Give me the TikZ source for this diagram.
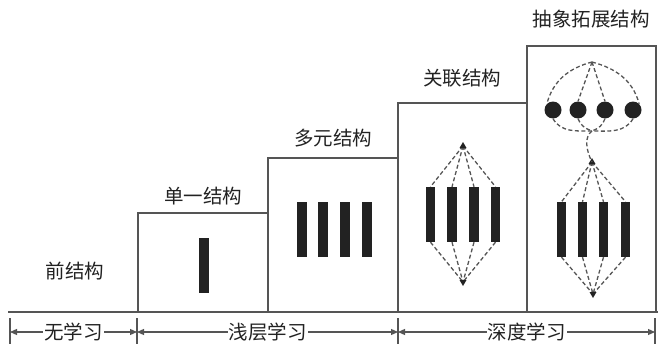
\documentclass[tikz,border=0pt]{standalone}
\usepackage{fontspec}
\newfontfamily\cjk{Noto Sans CJK SC}
\usetikzlibrary{arrows.meta,calc}
\definecolor{ink}{HTML}{222222}
\definecolor{frame}{HTML}{555555}
\tikzset{
  lbl/.style={font=\cjk\fontsize{19.5}{22}\selectfont, text=ink, inner sep=1pt},
  boxline/.style={draw=frame, line width=1.3pt},
  bar/.style={rectangle, fill=ink, draw=none, inner sep=0pt, minimum width=9.5pt, minimum height=55pt},
  ball/.style={circle, fill=ink, draw=none, inner sep=0pt, minimum size=17pt},
  dl/.style={draw=frame, dashed, dash pattern=on 4pt off 2.5pt, line width=1.3pt},
  tick/.style={draw=frame, line width=1.2pt},
  span/.style={draw=frame, line width=1.2pt, {Triangle[length=7pt,width=6pt]}-{Triangle[length=7pt,width=6pt]}},
}
\begin{document}
\begin{tikzpicture}[x=1pt,y=-1pt]
\useasboundingbox (0,0) rectangle (658,345);
% boxes
\draw[boxline] (138,312) -- (138,213) -- (268,213) -- (268,312);
\draw[boxline] (268,213) -- (268,158) -- (398,158) -- (398,312);
\draw[boxline] (398,158) -- (398,103) -- (527,103) -- (527,312);
\draw[boxline] (527,103) -- (527,46) -- (656,46) -- (656,312);
% baseline
\draw[draw=frame, line width=2.6pt] (8,312) -- (658,312);
% labels
\node[lbl] (l0) at (75,271) {前结构};
\node[lbl] (l1) at (203,196) {单一结构};
\node[lbl] (l2) at (333,138) {多元结构};
\node[lbl] (l3) at (462,78) {关联结构};
\node[lbl] (l4) at (591,19) {抽象拓展结构};
% box 1
\node[bar] (b10) at (204,265) {};
% box 2
\foreach \i/\x in {1/302,2/323,3/345,4/367}{\node[bar] (b2\i) at (\x,229.5) {};}
% box 3
\foreach \i/\x in {1/430.5,2/452,3/474,4/495.5}{\node[bar] (b3\i) at (\x,214.5) {};}
\coordinate (a3t) at (463,146);
\coordinate (a3b) at (463,282);
\foreach \i in {1,2,3,4}{
  \draw[dl] (a3t) -- (b3\i.north);
  \draw[dl] (b3\i.south) -- (a3b);
}
\fill[ink] ($(a3t)+(0,-4)$) -- ++(-3.5,6) -- ++(7,0) -- cycle;
\fill[ink] ($(a3b)+(0,4)$) -- ++(-3.5,-6) -- ++(7,0) -- cycle;
% box 4 lower
\foreach \i/\x in {1/561.5,2/582.5,3/603.5,4/625.5}{\node[bar] (b4\i) at (\x,229.5) {};}
\coordinate (a4t) at (592,162);
\coordinate (a4b) at (593,294);
\foreach \i in {1,2,3,4}{
  \draw[dl] (a4t) -- (b4\i.north);
  \draw[dl] (b4\i.south) -- (a4b);
}
\fill[ink] ($(a4t)+(0,-4)$) -- ++(-3.5,6) -- ++(7,0) -- cycle;
\fill[ink] ($(a4b)+(0,4)$) -- ++(-3.5,-6) -- ++(7,0) -- cycle;
% box 4 upper
\foreach \i/\x in {1/553,2/578,3/605,4/633}{\node[ball] (c\i) at (\x,110) {};}
\coordinate (top) at (592,62);
\coordinate (mid) at (592,131);
\draw[dl] (top) to[out=195,in=75] (c1.north west);
\draw[dl] (top) -- (c2.north);
\draw[dl] (top) -- (c3.north);
\draw[dl] (top) to[out=-15,in=105] (c4.north east);
\draw[dl] (c1.south) to[out=-60,in=180] (mid);
\draw[dl] (c2.south) to[out=-70,in=160] (mid);
\draw[dl] (c3.south) to[out=-110,in=20] (mid);
\draw[dl] (c4.south) to[out=-120,in=0] (mid);
\draw[dl] (mid) .. controls (584,137) and (586,150) .. (a4t);
% bottom spans
\coordinate (t0) at (10,332);
\coordinate (t1) at (137,332);
\coordinate (t2) at (398,332);
\coordinate (t3) at (655,332);
\foreach \t in {t0,t1,t2,t3}{\draw[tick] ($(\t)+(0,-14)$) -- ($(\t)+(0,12)$);}
\draw[span] (t0) -- node[lbl, fill=white] (s1) {无学习} (t1);
\draw[span] (t1) -- node[lbl, fill=white] (s2) {浅层学习} (t2);
\draw[span] (t2) -- node[lbl, fill=white] (s3) {深度学习} (t3);
\end{tikzpicture}
\end{document}
